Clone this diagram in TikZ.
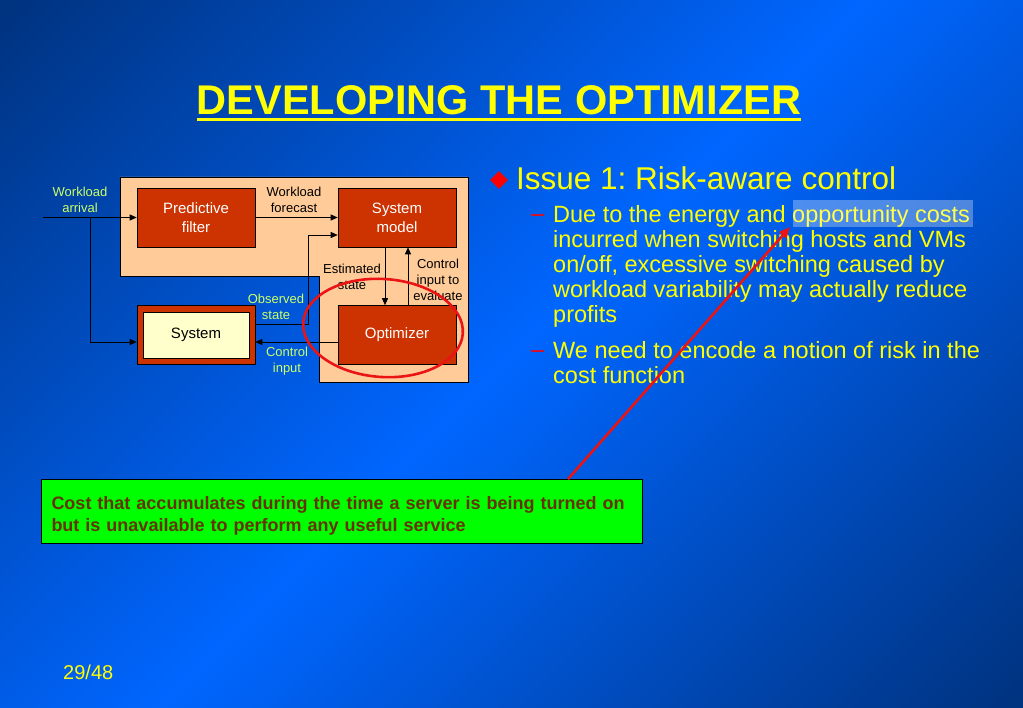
\documentclass[tikz,border=0pt]{standalone}
\usepackage{fontspec}
\setmainfont{Liberation Sans}
\usetikzlibrary{arrows.meta,positioning,shapes.geometric,calc}
\definecolor{bgdark}{RGB}{0,51,128}
\definecolor{bgbright}{RGB}{0,102,255}
\definecolor{boxred}{RGB}{204,51,0}
\definecolor{peach}{RGB}{255,204,153}
\definecolor{cream}{RGB}{255,255,204}
\definecolor{lblgreen}{RGB}{204,255,102}
\definecolor{slideyellow}{RGB}{255,255,0}
\definecolor{notegreen}{RGB}{0,255,0}
\definecolor{notetext}{RGB}{102,51,0}
\definecolor{ringred}{RGB}{235,20,20}
\frenchspacing
\newcommand{\sldtitle}{\fontsize{41.5}{48}\selectfont\bfseries}
\newcommand{\sldissue}{\fontsize{31.5}{36}\selectfont}
\newcommand{\slditem}{\fontsize{23.5}{25}\selectfont}
\newcommand{\sldbox}{\fontsize{15}{19}\selectfont}
\newcommand{\sldlbl}{\fontsize{13}{15.8}\selectfont}
\newcommand{\sldnote}{\fontsize{18}{22}\selectfont\bfseries}
\newcommand{\sldpage}{\fontsize{20}{24}\selectfont}
\pgfdeclarehorizontalshading{slidebg}{100bp}{color(0bp)=(bgdark); color(15bp)=(bgdark);
  color(50bp)=(bgbright); color(85bp)=(bgdark); color(100bp)=(bgdark)}
\tikzset{
  blk/.style={draw=black,fill=boxred,text=white,font=\sldbox,align=center,
              minimum width=118pt,minimum height=59pt,inner sep=0pt,line width=.6pt},
  sysin/.style={draw=black,fill=cream,text=black,font=\sldbox,
              minimum width=106pt,minimum height=46pt,inner sep=0pt,line width=.6pt},
  lbl/.style={font=\sldlbl,align=center,inner sep=0pt},
  flow/.style={-{Triangle[length=7pt,width=6pt]},draw=black,line width=.9pt},
  ring/.style={draw=ringred,line width=2.6pt},
  pointer/.style={-{Triangle[length=11pt,width=9pt]},draw=ringred,line width=2.6pt},
  note/.style={draw=black,fill=notegreen,text=notetext,font=\sldnote,align=left,
               minimum width=601pt,minimum height=64pt,text width=580pt,line width=.8pt},
  slidetext/.style={inner sep=0pt,text=slideyellow},
  marked/.style={fill=white,opacity=.3},
}
\begin{document}
\begin{tikzpicture}[x=1pt,y=-1pt]
  \useasboundingbox (0,0) rectangle (1023,708);
  \shade[shading=slidebg,shading angle=-45] (0,0) rectangle (1023,708);
  % control loop diagram
  \draw[black,fill=peach,line width=.8pt] (120,177) -- (468,177) -- (468,382)
    -- (319,382) -- (319,276) -- (120,276) -- cycle;
  \node[blk] (pf) at (196,217.5) {Predictive\\filter};
  \node[blk] (sm) at (397,217.5) {System\\model};
  \node[blk] (opt) at (397,335) {Optimizer};
  \node[blk] (sys) at (196,335) {};
  \node[sysin] (sysin) at (sys.center) {System};
  \coordinate (arrin) at (43,217.5);
  \coordinate (split) at (90,217.5);
  \draw[flow] (arrin) -- (pf);
  \draw[flow] (split) |- ([yshift=-7pt]sys.west);
  \draw[flow] (pf) -- (sm);
  \draw[flow] ([yshift=11pt]sys.east) -- ++(53,0) |- ([yshift=-17.5pt]sm.west);
  \draw[flow] ([xshift=-12pt]sm.south) -- ([xshift=-12pt]opt.north);
  \draw[flow] ([xshift=11pt]opt.north) -- ([xshift=11pt]sm.south);
  \draw[flow] ([yshift=-7pt]opt.west) -- ([yshift=-7pt]sys.east);
  \node[lbl,text=lblgreen] (arrlbl) at (80,200) {Workload\\arrival};
  \node[lbl] (fclbl) at (294,200) {Workload\\forecast};
  \node[lbl] (estlbl) at (352,277) {Estimated\\state};
  \node[lbl] (evallbl) at (438,280) {Control\\input to\\evaluate};
  \node[lbl,text=lblgreen] (obslbl) at (276,307) {Observed\\state};
  \node[lbl,text=lblgreen] (ctllbl) at (287,361) {Control\\input};
  \draw[ring,rotate around={-4:(383,328)}] (383,328) ellipse [x radius=80,y radius=49];
  % title
  \node[slidetext,anchor=base,font=\sldtitle] (title) at (499,115) {DEVELOPING THE OPTIMIZER};
  \draw[slideyellow,line width=2.5pt] ([yshift=-4.3pt]title.base west)
    -- ([yshift=-4.3pt]title.base east);
  % bullets
  \node[diamond,fill=red,inner sep=0pt,minimum width=18pt,minimum height=18pt] (bul) at (499,180) {};
  \node[slidetext,anchor=base west,font=\sldissue] (issue) at (516,190) {Issue 1: Risk-aware control};
  \node[inner sep=0pt,anchor=base west,text=red,font=\slditem] (dash1) at (531,222) {--};
  \node[slidetext,anchor=north west,align=left,font=\slditem] (item1) at (553,205)
    {Due to the energy and opportunity costs\\incurred when switching hosts and VMs\\
     on/off, excessive switching caused by\\workload variability may actually reduce\\profits};
  \fill[marked] (793,200) rectangle (973,227);
  \node[inner sep=0pt,anchor=base west,text=red,font=\slditem] (dash2) at (531,358) {--};
  \node[slidetext,anchor=north west,align=left,font=\slditem] (item2) at (553,341)
    {We need to encode a notion of risk in the\\cost function};
  % callout
  \node[note] (note) at (341.5,511.5)
    {\rule{0pt}{21pt}Cost that accumulates during the time a server is being turned on\\
     but is unavailable to perform any useful service};
  \coordinate (tip) at (790,227);
  \draw[pointer] ([xshift=226.5pt]note.north) -- (tip);
  \node[slidetext,anchor=base west,font=\sldpage] (pg) at (63,679) {29/48};
\end{tikzpicture}
\end{document}
